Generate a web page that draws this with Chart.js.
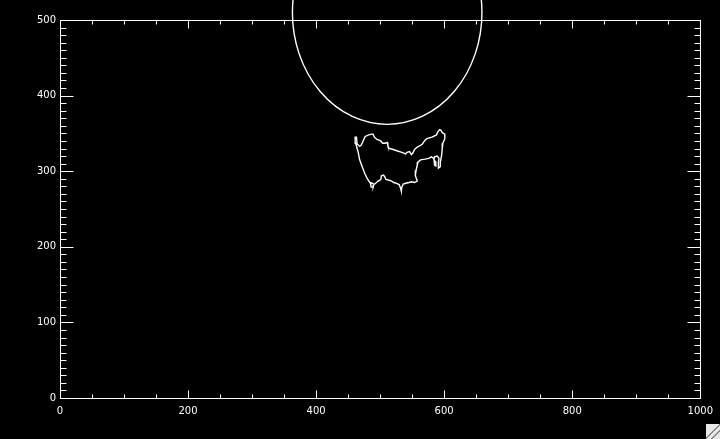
<!DOCTYPE html>
<html>
<head>
<meta charset="utf-8">
<script src="https://cdn.jsdelivr.net/npm/chart.js@4.4.1/dist/chart.umd.min.js"></script>
<style>
  html, body { margin: 0; padding: 0; background: #000; overflow: hidden; }
  #wrap { position: relative; width: 720px; height: 439px; }
  #grip {
    position: absolute; right: 0; bottom: 0; width: 14px; height: 15px;
    background: linear-gradient(135deg, #e8e8e8 45%, #888 46%, #888 52%, #e8e8e8 53%, #e8e8e8 66%, #888 67%, #888 73%, #e8e8e8 74%);
  }
</style>
</head>
<body>
<div id="wrap">
  <canvas id="chart" width="720" height="439"></canvas>
  <div id="grip"></div>
</div>
<script>
// contour outline (data units)
const contourX = [477, 482, 487, 489, 491, 495, 501, 504, 508, 511, 512, 514, 519, 526, 534, 540,
  542, 546, 549, 551, 554, 558, 563, 566, 570, 573, 581, 588, 590, 593, 595, 597,
  601, 601, 598, 597, 596, 594, 594, 591, 591, 592, 589, 585, 584, 587, 587, 585,
  584, 580, 576, 570, 563, 559, 558, 556, 555, 558, 554, 549, 545, 540, 536, 534,
  533, 532, 530, 526, 521, 518, 514, 509, 507, 505, 502, 501, 497, 493, 490, 489,
  486, 485, 488, 484, 480, 476, 472, 468, 466, 464, 462, 461, 463, 464, 468, 470,
  473, 476, 477];
const contourY = [346, 348, 349, 349, 345, 342, 340, 337, 337, 338, 334, 330, 329, 327, 325, 323,
  325, 326, 322, 324, 329, 332, 334, 336, 341, 343, 345, 348, 352, 355, 354, 351,
  349, 343, 337, 330, 321, 312, 306, 304, 312, 317, 320, 319, 315, 312, 307, 308,
  317, 319, 317, 316, 315, 312, 308, 301, 294, 287, 285, 286, 285, 284, 283, 279,
  274, 277, 282, 284, 285, 287, 288, 289, 293, 295, 294, 289, 287, 284, 282, 279,
  279, 283, 284, 285, 290, 297, 306, 315, 324, 330, 337, 345, 345, 336, 333, 334,
  339, 345, 346];

// limb circle: centre and radius (data units)
const limbCenter = [511, 510];
const limbRadius = 148;

// axis ticks
const xTicks = [0, 200, 400, 600, 800, 1000];
const yTicks = [0, 100, 200, 300, 400, 500];
const xMinorStep = 50;
const yMinorStep = 10;

const contour = contourX.map((x, i) => ({ x: x, y: contourY[i] }));

const idlFrame = {
  id: 'idlFrame',
  afterDatasetsDraw(chart) {
    const ctx = chart.ctx;
    const a = chart.chartArea;
    const xs = chart.scales.x;
    const ys = chart.scales.y;
    ctx.save();
    ctx.strokeStyle = '#fff';

    // limb, not clipped to the plot area
    const cx = xs.getPixelForValue(limbCenter[0]);
    const cy = ys.getPixelForValue(limbCenter[1]);
    const rx = Math.abs(xs.getPixelForValue(limbCenter[0] + limbRadius) - cx);
    const ry = Math.abs(ys.getPixelForValue(limbCenter[1] + limbRadius) - cy);
    ctx.lineWidth = 1.4;
    ctx.beginPath();
    ctx.ellipse(cx, cy, rx, ry, 0, 0, Math.PI * 2);
    ctx.stroke();

    // box
    ctx.lineWidth = 1;
    const l = Math.round(a.left) + 0.5, r = Math.round(a.right) + 0.5;
    const t = Math.round(a.top) + 0.5, b = Math.round(a.bottom) + 0.5;
    ctx.strokeRect(l, t, r - l, b - t);

    // ticks pointing inward on all four sides
    ctx.beginPath();
    for (let v = xTicks[0]; v <= xTicks[xTicks.length - 1]; v += xMinorStep) {
      const p = Math.round(xs.getPixelForValue(v)) + 0.5;
      const len = xTicks.includes(v) ? 8 : 4;
      ctx.moveTo(p, b); ctx.lineTo(p, b - len);
      ctx.moveTo(p, t); ctx.lineTo(p, t + len);
    }
    for (let v = yTicks[0]; v <= yTicks[yTicks.length - 1]; v += yMinorStep) {
      const p = Math.round(ys.getPixelForValue(v)) + 0.5;
      const len = yTicks.includes(v) ? 13 : 6;
      ctx.moveTo(l, p); ctx.lineTo(l + len, p);
      ctx.moveTo(r, p); ctx.lineTo(r - len, p);
    }
    ctx.stroke();
    ctx.restore();
  }
};

const tickFont = { family: 'DejaVu Sans', size: 10 };

new Chart(document.getElementById('chart'), {
  type: 'scatter',
  data: {
    datasets: [{
      data: contour,
      showLine: true,
      borderColor: '#fff',
      borderWidth: 1.4,
      pointRadius: 0,
      tension: 0
    }]
  },
  options: {
    responsive: false,
    animation: false,
    devicePixelRatio: 1,
    layout: { padding: { top: 20, right: 18, left: 0, bottom: 0 } },
    plugins: { legend: { display: false }, tooltip: { enabled: false } },
    scales: {
      x: {
        type: 'linear', min: 0, max: 1000,
        afterBuildTicks: s => { s.ticks = xTicks.map(v => ({ value: v })); },
        afterFit: s => { s.height = 41; },
        ticks: { color: '#fff', font: tickFont, padding: 7, maxRotation: 0, callback: v => String(v) },
        grid: { display: false, drawTicks: false },
        border: { display: false }
      },
      y: {
        type: 'linear', min: 0, max: 500,
        afterBuildTicks: s => { s.ticks = yTicks.map(v => ({ value: v })); },
        afterFit: s => { s.width = 60; },
        ticks: { color: '#fff', font: tickFont, padding: 4, callback: v => String(v) },
        grid: { display: false, drawTicks: false },
        border: { display: false }
      }
    }
  },
  plugins: [idlFrame]
});
</script>
</body>
</html>
